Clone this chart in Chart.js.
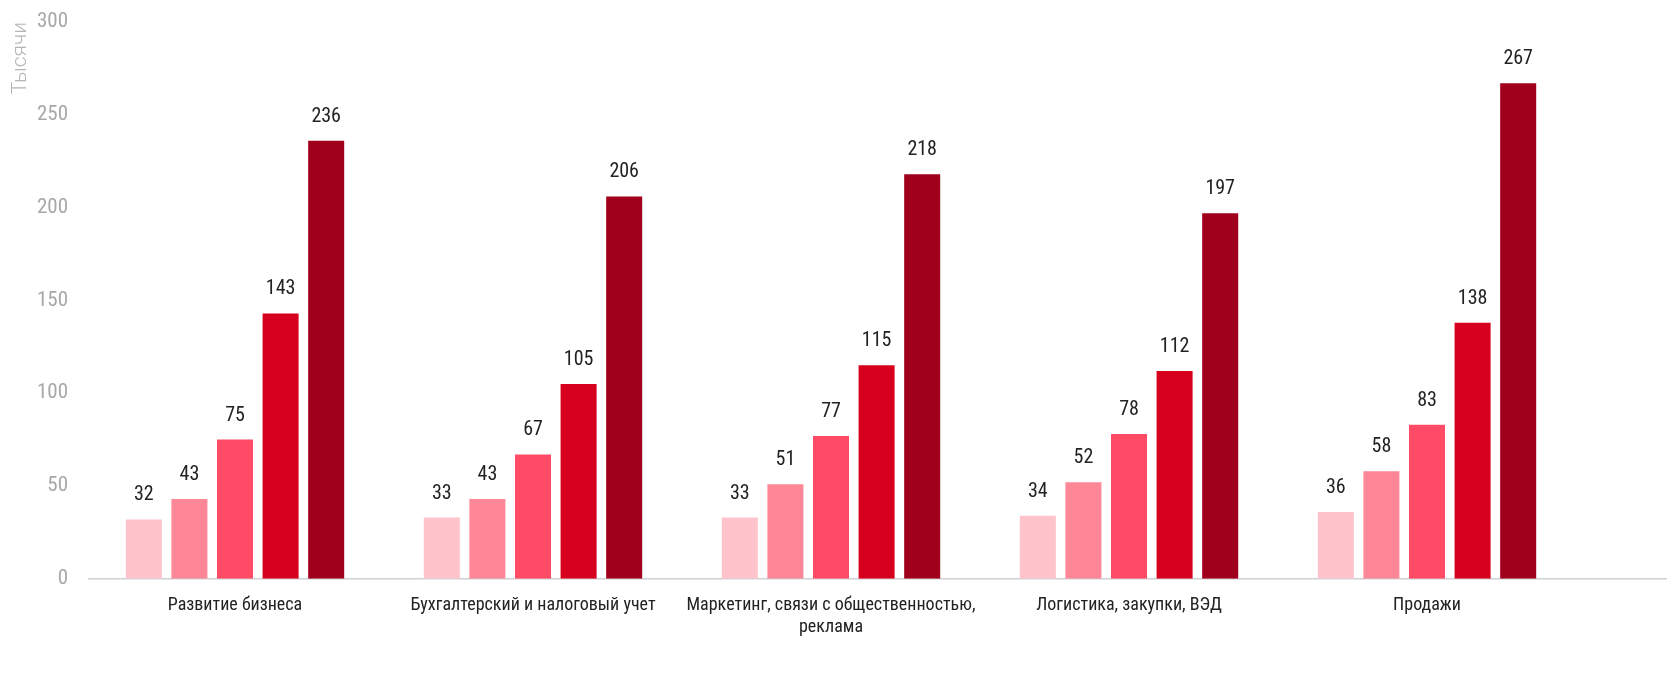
<!DOCTYPE html>
<html>
<head>
<meta charset="utf-8">
<script src="https://cdn.jsdelivr.net/npm/chart.js@4"></script>
<style>
    html, body { margin: 0; padding: 0; background: #fff; overflow: hidden; }
    canvas { display: block; }
</style>
</head>
<body>
<canvas id="salaryChart" width="1667" height="691" style="width:1667px;height:691px"></canvas>
<script>
// 數據
const categories = [
    'Развитие бизнеса',
    'Бухгалтерский и налоговый учет',
    ['Маркетинг, связи с общественностью,', 'реклама'],
    'Логистика, закупки, ВЭД',
    'Продажи'
];
const level1 = [32, 33, 33, 34, 36];
const level2 = [43, 43, 51, 52, 58];
const level3 = [75, 67, 77, 78, 83];
const level4 = [143, 105, 115, 112, 138];
const level5 = [236, 206, 218, 197, 267];
const yTicks = [0, 50, 100, 150, 200, 250, 300];

const colors = ['#FFC3CC', '#FD8797', '#FF4B66', '#D6001E', '#A0001B'];
const condensed = '"Liberation Sans Narrow", "Roboto Condensed", "DejaVu Sans Condensed", Roboto, sans-serif';

// 柱頂數值標籤
const valueLabels = {
    id: 'valueLabels',
    afterDatasetsDraw(chart) {
        const ctx = chart.ctx;
        ctx.save();
        ctx.font = '20px ' + condensed;
        ctx.fillStyle = '#222';
        ctx.textAlign = 'center';
        ctx.textBaseline = 'bottom';
        chart.data.datasets.forEach((ds, i) => {
            chart.getDatasetMeta(i).data.forEach((bar, j) => {
                ctx.fillText(ds.data[j], bar.x, bar.y - 14);
            });
        });
        ctx.restore();
    }
};

// 底線延伸至畫布右側
const baseLine = {
    id: 'baseLine',
    beforeDatasetsDraw(chart) {
        const ctx = chart.ctx;
        const y = chart.scales.y.getPixelForValue(0);
        ctx.save();
        ctx.strokeStyle = '#cdd1d5';
        ctx.lineWidth = 1.5;
        ctx.beginPath();
        ctx.moveTo(chart.chartArea.left + 2, y);
        ctx.lineTo(chart.width, y);
        ctx.stroke();
        ctx.restore();
    }
};

const ds = (label, data, i) => ({
    label: label,
    data: data,
    backgroundColor: colors[i],
    borderWidth: 0,
    barPercentage: 0.79,
    categoryPercentage: 0.765
});

new Chart(document.getElementById('salaryChart'), {
    type: 'bar',
    data: {
        labels: categories,
        datasets: [
            ds('1', level1, 0),
            ds('2', level2, 1),
            ds('3', level3, 2),
            ds('4', level4, 3),
            ds('5', level5, 4)
        ]
    },
    options: {
        responsive: false,
        devicePixelRatio: 1,
        animation: false,
        layout: { padding: { top: 0, right: 91, left: 0, bottom: 37 } },
        plugins: {
            legend: { display: false },
            tooltip: { enabled: false }
        },
        scales: {
            x: {
                grid: { display: false, drawTicks: false },
                border: { display: false },
                ticks: {
                    color: '#222',
                    font: { size: 18, family: condensed },
                    padding: 16,
                    maxRotation: 0,
                    autoSkip: false
                }
            },
            y: {
                min: 0,
                max: 300,
                afterBuildTicks(axis) { axis.ticks = yTicks.map(v => ({ value: v })); },
                afterFit(axis) {
                    axis.width = 86;
                    axis.paddingTop = 22;
                },
                grid: { display: false, drawTicks: false },
                border: { display: false },
                title: {
                    display: true,
                    text: 'Тысячи',
                    align: 'end',
                    color: '#b5b5b5',
                    font: { size: 21, family: 'Roboto, sans-serif', weight: '300' },
                    padding: { top: 8, bottom: 0 }
                },
                ticks: {
                    color: '#a8a8a8',
                    font: { size: 21, family: condensed },
                    padding: 18
                }
            }
        }
    },
    plugins: [valueLabels, baseLine]
});
</script>
</body>
</html>
